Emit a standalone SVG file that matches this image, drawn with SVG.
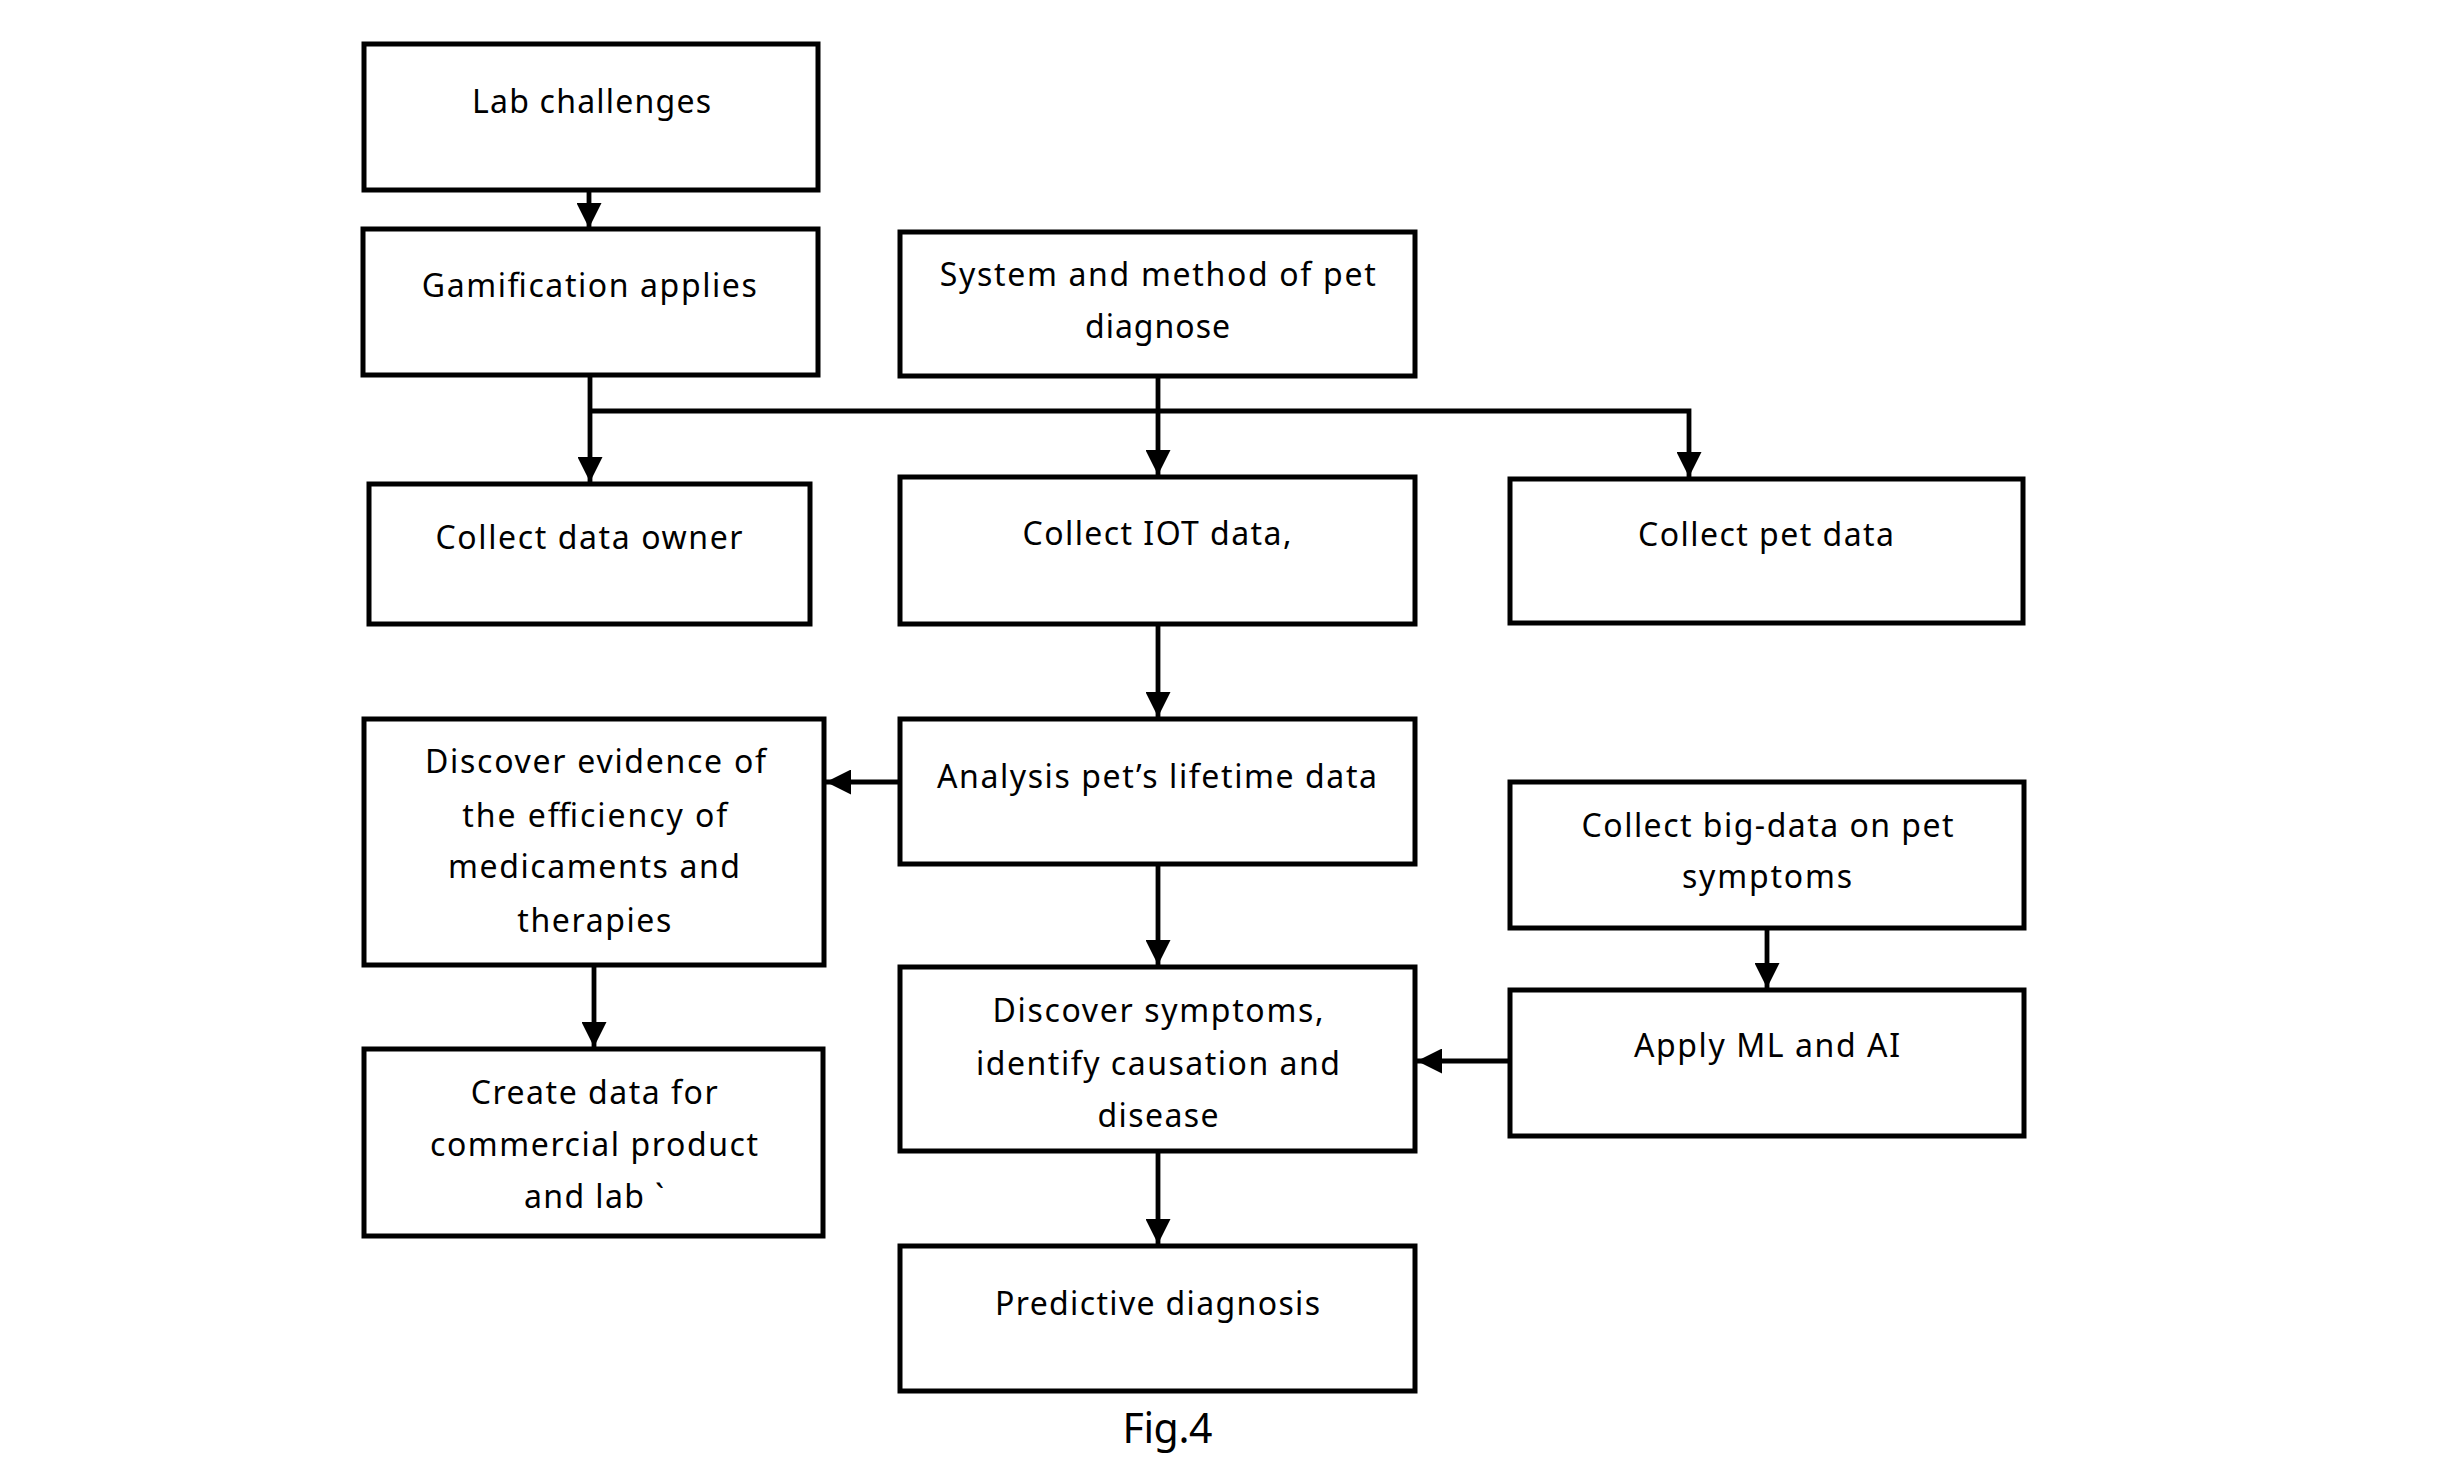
<svg xmlns="http://www.w3.org/2000/svg" width="2459" height="1475" viewBox="0 0 2459 1475">
<style>
.box{fill:#fff;stroke:#000;stroke-width:5}
.t{font-family:"Noto Sans","Open Sans","Liberation Sans",sans-serif;font-size:32px;fill:#000;text-anchor:middle}
.c{fill:none;stroke:#000;stroke-width:4.8;stroke-linejoin:miter}
.cap{font-family:"Noto Sans","Open Sans","Liberation Sans",sans-serif;font-size:41px;fill:#000;text-anchor:middle}
</style>
<defs>
<marker id="ah" viewBox="0 0 25 25" refX="25" refY="12.5" markerWidth="25" markerHeight="25" markerUnits="userSpaceOnUse" orient="auto">
<path d="M0,0 L25,12.5 L0,25 z" fill="#000"/>
</marker>
</defs>
<rect width="2459" height="1475" fill="#fff"/>
<g id="connectors">
<path class="c" d="M589,192 V228" marker-end="url(#ah)"/>
<path class="c" d="M590,377 V482" marker-end="url(#ah)"/>
<path class="c" d="M590,411 H1689 V477" marker-end="url(#ah)"/>
<path class="c" d="M1158,378 V475" marker-end="url(#ah)"/>
<path class="c" d="M1158,626 V717" marker-end="url(#ah)"/>
<path class="c" d="M898,782 H826" marker-end="url(#ah)"/>
<path class="c" d="M594,967 V1047" marker-end="url(#ah)"/>
<path class="c" d="M1158,866 V965" marker-end="url(#ah)"/>
<path class="c" d="M1158,1153 V1244" marker-end="url(#ah)"/>
<path class="c" d="M1767,930 V988" marker-end="url(#ah)"/>
<path class="c" d="M1508,1061 H1417" marker-end="url(#ah)"/>
</g>
<g id="lab-challenges">
<rect class="box" x="364" y="44" width="454" height="146"/>
<text class="t" x="591.5" y="112.7" textLength="239" lengthAdjust="spacing">Lab challenges</text>
</g>
<g id="gamification">
<rect class="box" x="363" y="229" width="455" height="146"/>
<text class="t" x="589.3" y="296.7" textLength="335" lengthAdjust="spacing">Gamification applies</text>
</g>
<g id="system">
<rect class="box" x="900" y="232" width="515" height="144"/>
<text class="t" x="1157.7" y="286" textLength="436" lengthAdjust="spacing">System and method of pet</text>
<text class="t" x="1157.5" y="338" textLength="145" lengthAdjust="spacing">diagnose</text>
</g>
<g id="collect-owner">
<rect class="box" x="369" y="484" width="441" height="140"/>
<text class="t" x="589" y="549" textLength="307" lengthAdjust="spacing">Collect data owner</text>
</g>
<g id="collect-iot">
<rect class="box" x="900" y="477" width="515" height="147"/>
<text class="t" x="1157" y="545" textLength="269" lengthAdjust="spacing">Collect IOT data,</text>
</g>
<g id="collect-pet">
<rect class="box" x="1510" y="479" width="513" height="144"/>
<text class="t" x="1766" y="546" textLength="256" lengthAdjust="spacing">Collect pet data</text>
</g>
<g id="evidence">
<rect class="box" x="364" y="719" width="460" height="246"/>
<text class="t" x="595.5" y="773.3" textLength="341" lengthAdjust="spacing">Discover evidence of</text>
<text class="t" x="594.8" y="826.7" textLength="265" lengthAdjust="spacing">the efficiency of</text>
<text class="t" x="594" y="878.3" textLength="292" lengthAdjust="spacing">medicaments and</text>
<text class="t" x="594.3" y="931.7" textLength="154" lengthAdjust="spacing">therapies</text>
</g>
<g id="analysis">
<rect class="box" x="900" y="719" width="515" height="145"/>
<text class="t" x="1157" y="788" textLength="440" lengthAdjust="spacing">Analysis pet’s lifetime data</text>
</g>
<g id="big-data">
<rect class="box" x="1510" y="782" width="514" height="146"/>
<text class="t" x="1767.6" y="836.7" textLength="372" lengthAdjust="spacing">Collect big-data on pet</text>
<text class="t" x="1767" y="888.3" textLength="170" lengthAdjust="spacing">symptoms</text>
</g>
<g id="create-data">
<rect class="box" x="364" y="1049" width="459" height="187"/>
<text class="t" x="594.2" y="1104" textLength="247" lengthAdjust="spacing">Create data for</text>
<text class="t" x="594" y="1156" textLength="328" lengthAdjust="spacing">commercial product</text>
<text class="t" x="594" y="1208.3" textLength="140" lengthAdjust="spacing">and lab `</text>
</g>
<g id="symptoms">
<rect class="box" x="900" y="967" width="515" height="184"/>
<text class="t" x="1158" y="1021.7" textLength="331" lengthAdjust="spacing">Discover symptoms,</text>
<text class="t" x="1158" y="1075" textLength="364" lengthAdjust="spacing">identify causation and</text>
<text class="t" x="1158" y="1126.7" textLength="121" lengthAdjust="spacing">disease</text>
</g>
<g id="apply-ml">
<rect class="box" x="1510" y="990" width="514" height="146"/>
<text class="t" x="1767" y="1056.7" textLength="266" lengthAdjust="spacing">Apply ML and AI</text>
</g>
<g id="predictive">
<rect class="box" x="900" y="1246" width="515" height="145"/>
<text class="t" x="1157.5" y="1315" textLength="325" lengthAdjust="spacing">Predictive diagnosis</text>
</g>
<text class="cap" x="1167.5" y="1443" textLength="90" lengthAdjust="spacing">Fig.4</text>
</svg>
